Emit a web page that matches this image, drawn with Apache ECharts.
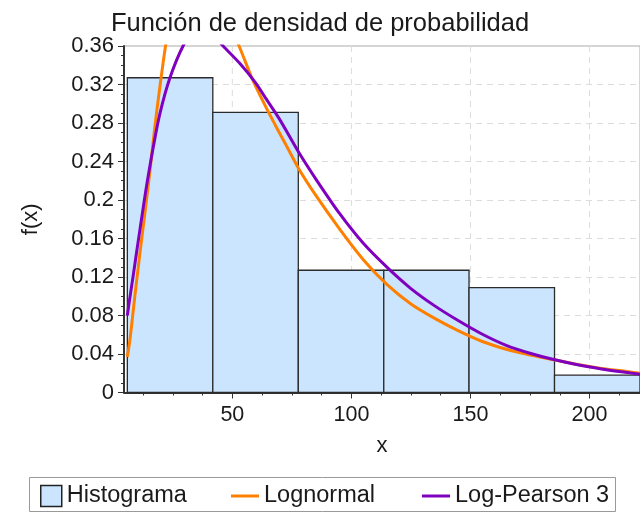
<!DOCTYPE html>
<html>
<head>
<meta charset="utf-8">
<script src="https://cdn.jsdelivr.net/npm/echarts@6/dist/echarts.min.js"></script>
<style>
  html, body { margin: 0; padding: 0; background: #fff; }
  #chart { width: 640px; height: 513px; }
</style>
</head>
<body>
<div id="chart"></div>
<script>
// Histogram bins (edges) and relative frequencies
const binEdges = [5.9, 41.8, 77.7, 113.6, 149.4, 185.3, 221.2];
const histFreq = [0.327, 0.291, 0.127, 0.127, 0.109, 0.018];

// Fitted Lognormal density (scaled to bin width)
const lognX = [5.9, 7, 9.1, 11.2, 13.3, 15.4, 17.5, 19.6, 21.7, 24, 26, 28, 31, 34, 38, 42, 46, 50, 53, 58, 63, 68, 73, 78, 85, 95, 105, 115, 125, 135, 145, 155, 165, 175, 185, 195, 205, 215, 221.2];
const lognY = [0.037, 0.055, 0.101, 0.145, 0.187, 0.23, 0.277, 0.318, 0.356, 0.39, 0.41, 0.424, 0.434, 0.434, 0.424, 0.408, 0.391, 0.375, 0.359, 0.328, 0.302, 0.278, 0.255, 0.232, 0.205, 0.17, 0.138, 0.112, 0.092, 0.077, 0.064, 0.053, 0.045, 0.039, 0.034, 0.029, 0.025, 0.022, 0.020];

// Fitted Log-Pearson 3 density (scaled to bin width)
const pearX = [5.9, 6.7, 8.4, 9.8, 11.9, 14, 16.8, 19.6, 23.8, 29.3, 33, 37, 41, 46.1, 53.1, 60, 64.2, 69.8, 78, 85, 95, 105, 115, 125, 135, 145, 155, 165, 175, 185, 195, 205, 215, 221.2];
const pearY = [0.08, 0.094, 0.122, 0.146, 0.181, 0.215, 0.255, 0.29, 0.327, 0.36, 0.372, 0.377, 0.374, 0.36, 0.342, 0.321, 0.305, 0.284, 0.249, 0.222, 0.186, 0.155, 0.13, 0.108, 0.09, 0.0745, 0.0605, 0.049, 0.0408, 0.0342, 0.0288, 0.0245, 0.021, 0.019];

// Axis ticks
const xMajorTicks = [50, 100, 150, 200];
const xMinorTicks = [12.5, 25, 37.5, 62.5, 75, 87.5, 112.5, 125, 137.5, 162.5, 175, 187.5, 212.5];
const xMin = 4.5, xMax = 221.2;
const yMin = 0, yMax = 0.36, yStep = 0.04;

const FONT = 'Liberation Sans, Arial, sans-serif';
const TEXT = '#1a1a1a';
const AXIS = '#333';

const chart = echarts.init(document.getElementById('chart'), null, { renderer: 'canvas' });

const option = {
  animation: false,
  backgroundColor: '#fff',
  textStyle: { fontFamily: FONT },
  title: {
    text: 'Función de densidad de probabilidad',
    left: 'center',
    top: 6,
    textStyle: { fontFamily: FONT, fontSize: 25.5, fontWeight: 'normal', color: TEXT }
  },
  grid: {
    left: 124, right: -2, top: 46, bottom: 120.5,
    show: true, borderColor: '#aaa', borderWidth: 1, backgroundColor: 'transparent'
  },
  graphic: [{
    type: 'rect',
    shape: { x: 29.5, y: 477.5, width: 586, height: 34 },
    style: { fill: '#fff', stroke: '#999', lineWidth: 1 },
    z: -1
  }],
  legend: [
    {
      data: [{ name: 'Histograma', icon: 'rect', itemStyle: { color: '#CCE5FF', borderColor: '#222', borderWidth: 1.5 } }],
      left: 40, top: 484, padding: 0, itemWidth: 21, itemHeight: 21, itemGap: 0,
      textStyle: { fontFamily: FONT, fontSize: 23.5, color: TEXT }
    },
    {
      data: [{ name: 'Lognormal', icon: 'rect', itemStyle: { color: '#FF8000', borderWidth: 0 } }],
      left: 231, top: 484, padding: 0, itemWidth: 28, itemHeight: 3,
      textStyle: { fontFamily: FONT, fontSize: 23.5, color: TEXT }
    },
    {
      data: [{ name: 'Log-Pearson 3', icon: 'rect', itemStyle: { color: '#8000C0', borderWidth: 0 } }],
      left: 422, top: 484, padding: 0, itemWidth: 28, itemHeight: 3,
      textStyle: { fontFamily: FONT, fontSize: 23.5, color: TEXT }
    }
  ],
  xAxis: [
    {
      type: 'value', min: xMin, max: xMax, position: 'bottom',
      name: 'x', nameLocation: 'middle', nameGap: 42,
      nameTextStyle: { fontFamily: FONT, fontSize: 22, color: TEXT },
      axisLine: { onZero: false, lineStyle: { color: AXIS, width: 2 } },
      axisTick: { customValues: xMajorTicks, length: 6, lineStyle: { color: AXIS, width: 1 } },
      axisLabel: { customValues: xMajorTicks, fontFamily: FONT, fontSize: 21.5, color: TEXT, margin: 12 },
      splitLine: { show: false }
    },
    {
      type: 'value', min: xMin, max: xMax, position: 'bottom',
      axisLine: { show: false, onZero: false },
      axisTick: { customValues: xMinorTicks, length: 3, lineStyle: { color: AXIS, width: 1 } },
      axisLabel: { show: false },
      splitLine: { show: false }
    }
  ],
  yAxis: {
    type: 'value', min: yMin, max: yMax, interval: yStep,
    name: 'f(x)', nameLocation: 'middle', nameRotate: 90, nameGap: 82,
    nameTextStyle: { fontFamily: FONT, fontSize: 22, color: TEXT },
    axisLine: { show: true, onZero: false, lineStyle: { color: AXIS, width: 2 } },
    axisTick: { show: true, length: 6, lineStyle: { color: AXIS, width: 1 } },
    minorTick: { show: true, splitNumber: 4, length: 3, lineStyle: { color: AXIS, width: 1 } },
    axisLabel: { fontFamily: FONT, fontSize: 22, color: TEXT, margin: 10 },
    splitLine: { show: true, showMinLine: false, showMaxLine: false, lineStyle: { color: '#dcdcdc', type: [6, 5], width: 1 } }
  },
  series: [
    {
      // vertical dashed grid lines at the major x ticks
      type: 'custom', name: 'xgrid', silent: true, z: 1,
      xAxisIndex: 0,
      data: xMajorTicks.map(v => [v]),
      encode: { x: 0 },
      renderItem(params, api) {
        const cs = params.coordSys;
        const px = api.coord([api.value(0), yMin])[0];
        return {
          type: 'line',
          shape: { x1: px, y1: cs.y, x2: px, y2: cs.y + cs.height },
          style: { stroke: '#dcdcdc', lineWidth: 1, lineDash: [6, 5] }
        };
      }
    },
    {
      type: 'custom', name: 'Histograma', z: 2,
      xAxisIndex: 0,
      itemStyle: { color: '#CCE5FF', borderColor: '#222', borderWidth: 1.5 },
      data: histFreq.map((f, i) => [binEdges[i], binEdges[i + 1], f]),
      encode: { x: [0, 1], y: 2 },
      renderItem(params, api) {
        const p0 = api.coord([api.value(0), api.value(2)]);
        const p1 = api.coord([api.value(1), 0]);
        return {
          type: 'rect',
          shape: { x: p0[0], y: p0[1], width: p1[0] - p0[0], height: p1[1] - p0[1] },
          style: { fill: '#CCE5FF', stroke: '#2b2b2b', lineWidth: 1.3 }
        };
      }
    },
    {
      type: 'line', name: 'Lognormal', z: 3, xAxisIndex: 0,
      data: lognX.map((x, i) => [x, lognY[i]]),
      smooth: 0.3, symbol: 'none', clip: true,
      lineStyle: { color: '#FF8000', width: 3 }, itemStyle: { color: '#FF8000' }
    },
    {
      type: 'line', name: 'Log-Pearson 3', z: 4, xAxisIndex: 0,
      data: pearX.map((x, i) => [x, pearY[i]]),
      smooth: 0.3, symbol: 'none', clip: true,
      lineStyle: { color: '#8000C0', width: 3 }, itemStyle: { color: '#8000C0' }
    }
  ]
};

chart.setOption(option);
</script>
</body>
</html>
